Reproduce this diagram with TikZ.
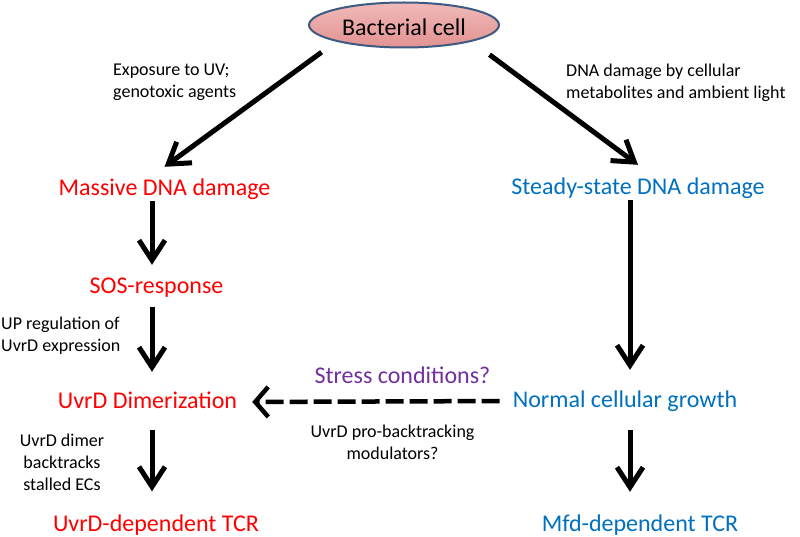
\documentclass[tikz,border=0pt]{standalone}
\usepackage{fontspec}
\setmainfont{Carlito}
\usetikzlibrary{arrows.meta,shapes.geometric}

\definecolor{dmgred}{RGB}{255,0,0}
\definecolor{cellblue}{RGB}{0,112,192}
\definecolor{stresspurple}{RGB}{112,48,160}
\definecolor{cellpink}{RGB}{226,146,146}
\definecolor{cellpinklight}{RGB}{240,186,184}
\definecolor{celledge}{RGB}{60,90,130}

\tikzset{
    stage/.style={font=\fontsize{24}{28}\selectfont, inner sep=0pt, text height=17pt, text depth=5pt, anchor=base},
    note/.style={font=\fontsize{18}{22}\selectfont, inner sep=0pt},
    arr/.style={line width=5pt, -{Straight Barb[length=20pt,width=26pt]}}
}

\begin{document}
\begin{tikzpicture}[x=1pt, y=-1pt]
        \useasboundingbox (0,0) rectangle (800,537);
        \coordinate (colL) at (152,0);
        \coordinate (colR) at (630,0);

        \node (cell) [ellipse, draw=celledge, line width=2pt, top color=cellpinklight, bottom color=cellpink,
            minimum width=190pt, minimum height=45pt, inner sep=2pt, text height=22pt, text depth=0pt,
            font=\fontsize{24}{28}\selectfont] at (404,25) {Bacterial cell};

        \node (massive) [stage, text=dmgred] at (164.5,196) {Massive DNA damage};
        \node (sos) [stage, text=dmgred] at (156.5,294) {SOS-response};
        \node (dimer) [stage, text=dmgred] at (147.5,408) {UvrD Dimerization};
        \node (uvrdtcr) [stage, text=dmgred] at (156,531.5) {UvrD-dependent TCR};
        \node (steady) [stage, text=cellblue] at (638,195) {Steady-state DNA damage};
        \node (growth) [stage, text=cellblue] at (625,407) {Normal cellular growth};
        \node (mfdtcr) [stage, text=cellblue] at (640,531) {Mfd-dependent TCR};

        \node (uvnote) [note, anchor=base west, align=left] at (113,98) {Exposure to UV;\\genotoxic agents};
        \node (lightnote) [note, anchor=base west, align=left] at (566,99) {DNA damage by cellular\\metabolites and ambient light};
        \node (upnote) [note, anchor=base west, align=left] at (1,351) {UP regulation of\\UvrD expression};
        \node (backnote) [note, anchor=base, align=center] at (62,490) {UvrD dimer\\backtracks\\stalled ECs};

        \draw[arr, shorten <=18pt] (cell.south west) -- ([yshift=12pt]massive.north);
        \draw[arr, shorten <=22pt] (cell.south east) -- ([yshift=13pt]steady.north);
        \draw[arr, shorten >=12pt] (massive.south -| colL) -- (sos.north -| colL);
        \draw[arr, shorten <=8pt, shorten >=19pt] (sos.south -| colL) -- (dimer.north -| colL);
        \draw[arr, shorten <=17pt, shorten >=23pt] (dimer.south -| colL) -- (uvrdtcr.north -| colL);
        \draw[arr, shorten >=20pt] (steady.south -| colR) -- (growth.north -| colR);
        \draw[arr, shorten <=18pt, shorten >=22pt] (growth.south -| colR) -- (mfdtcr.north -| colR);

        \draw[line width=4.5pt, dash pattern=on 18pt off 6pt, -{Straight Barb[length=13pt,width=30pt]},
            shorten <=13pt, shorten >=15pt] (growth.west) -- (dimer.east)
            node[pos=0.4, anchor=base, yshift=18pt, inner sep=0pt, font=\fontsize{24}{28}\selectfont, text=stresspurple] {Stress conditions?}
            node[pos=0.436, note, anchor=base, yshift=-58.5pt, align=center] {UvrD pro-backtracking\\modulators?};
    \end{tikzpicture}
\end{document}
